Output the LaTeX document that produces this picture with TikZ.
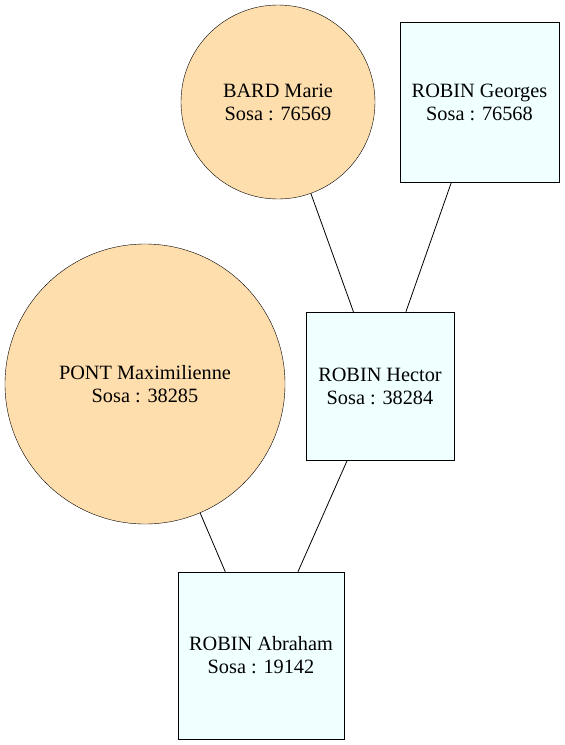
\documentclass[tikz,border=0pt]{standalone}
\usepackage{fontspec}
\setmainfont{Liberation Serif}
\usepackage{tikz}
\usetikzlibrary{positioning}
\definecolor{FigText}{HTML}{000000}
\definecolor{FigFemale}{HTML}{FFDEAD}
\definecolor{FigMale}{HTML}{F0FFFF}

\begin{document}
\begin{tikzpicture}[
x=1pt, y=-1pt,
font=\fontsize{20.3}{23}\selectfont,
female/.style={
draw=black,
circle,
fill=FigFemale,
inner sep=0pt,
align=center
},
male/.style={
draw=black,
rectangle,
fill=FigMale,
inner sep=0pt,
align=center
},
link/.style={draw=black, thick},
every node/.style={text=FigText}
]
\useasboundingbox (0,0) rectangle (565,745);

% Grandparents
\node[female, minimum size=194pt] (bard) at (278,102) {BARD Marie\\Sosa : 76569};
\node[male, minimum width=159pt, minimum height=160pt] (georges) at (479.5,102) {ROBIN Georges\\Sosa : 76568};

% Parents
\node[female, minimum size=280pt] (pont) at (145,384) {PONT Maximilienne\\Sosa : 38285};
\node[male, minimum width=148pt, minimum height=148pt] (hector) at (380,386) {ROBIN Hector\\Sosa : 38284};

% Child
\node[male, minimum width=166pt, minimum height=167pt] (abraham) at (261,655.5) {ROBIN Abraham\\Sosa : 19142};

% Links
\draw[link] (bard) -- (hector);
\draw[link] (georges) -- (hector);
\draw[link] (pont) -- (abraham);
\draw[link] (hector) -- (abraham);

\end{tikzpicture}
\end{document}
